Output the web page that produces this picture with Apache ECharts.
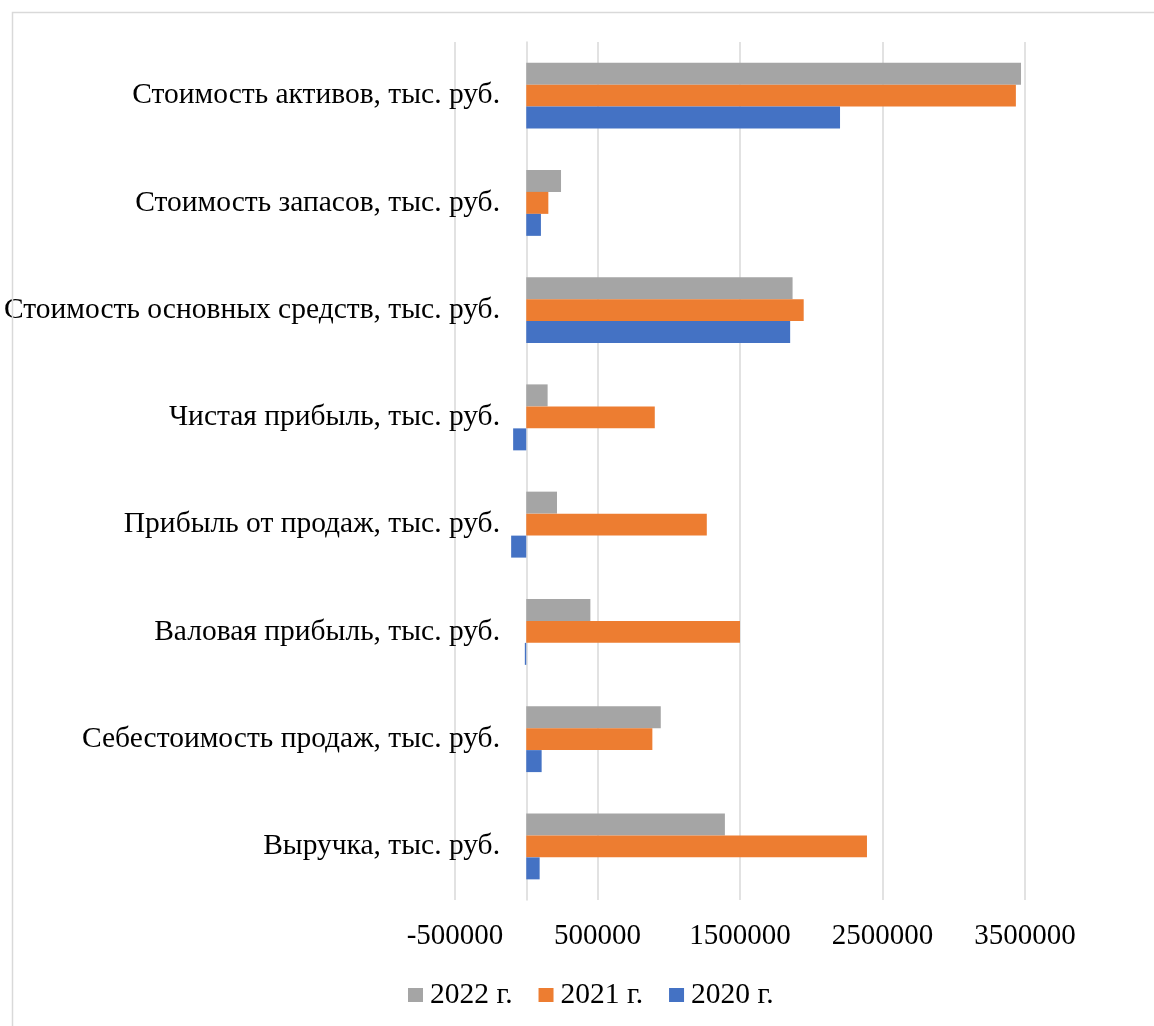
<!DOCTYPE html>
<html>
<head>
<meta charset="utf-8">
<script src="https://cdn.jsdelivr.net/npm/echarts@6/dist/echarts.min.js"></script>
<style>
  html, body { margin: 0; padding: 0; background: #ffffff; }
  #chart { width: 1154px; height: 1026px; }
</style>
</head>
<body>
<div id="chart"></div>
<script>
// Indicator names, bottom to top along the category axis
const categories = [
  'Выручка, тыс. руб.',
  'Себестоимость продаж, тыс. руб.',
  'Валовая прибыль, тыс. руб.',
  'Прибыль от продаж, тыс. руб.',
  'Чистая прибыль, тыс. руб.',
  'Стоимость основных средств, тыс. руб.',
  'Стоимость запасов, тыс. руб.',
  'Стоимость активов, тыс. руб.'
];

// Values per year, in the same order as categories
const values2022 = [1394000, 944000, 450000, 216000, 150000, 1869000, 244000, 3472000];
const values2021 = [2391000, 885000, 1500000, 1267000, 902000, 1947000, 155000, 3436000];
const values2020 = [94000, 108000, -10000, -106000, -92000, 1852000, 103000, 2202000];

const seriesNames = ['2022 г.', '2021 г.', '2020 г.'];

const xMin = -500000;
const xMax = 3500000;
const xStep = 1000000;

const FONT = '"Liberation Serif", "Times New Roman", serif';
const GRID = '#d9d9d9';

const chart = echarts.init(document.getElementById('chart'), null, { renderer: 'canvas' });

chart.setOption({
  backgroundColor: '#ffffff',
  animation: false,
  color: ['#A5A5A5', '#ED7D31', '#4472C4'],
  grid: {
    left: 455, right: 129, top: 42, bottom: 126,
    containLabel: false, outerBoundsMode: 'none'
  },
  legend: {
    data: seriesNames,
    left: 408,
    top: 980,
    padding: 0,
    icon: 'rect',
    itemWidth: 15,
    itemHeight: 14,
    itemGap: 26,
    textStyle: { fontFamily: FONT, fontSize: 29.5, color: '#000000', padding: [0, 0, 0, 2] }
  },
  xAxis: {
    type: 'value',
    min: xMin,
    max: xMax,
    interval: xStep,
    axisLine: { show: false },
    axisTick: { show: false },
    splitLine: { show: true, lineStyle: { color: GRID, width: 1.5 } },
    axisLabel: {
      fontFamily: FONT, fontSize: 29, color: '#000000', margin: 22,
      formatter: v => String(v)
    }
  },
  yAxis: {
    type: 'category',
    data: categories,
    axisLine: { show: true, onZero: true, lineStyle: { color: GRID, width: 1.5 } },
    axisTick: { show: false },
    splitLine: { show: false },
    axisLabel: { fontFamily: FONT, fontSize: 29.5, color: '#000000', margin: -45 }
  },
  series: [
    { name: seriesNames[0], type: 'bar', data: values2022, barGap: '0%', barCategoryGap: '38.5%' },
    { name: seriesNames[1], type: 'bar', data: values2021, barGap: '0%', barCategoryGap: '38.5%' },
    { name: seriesNames[2], type: 'bar', data: values2020, barGap: '0%', barCategoryGap: '38.5%' }
  ],
  graphic: [
    {
      type: 'rect', z: 100, silent: true,
      shape: { x: 12.5, y: 12.5, width: 1300, height: 1200 },
      style: { fill: null, stroke: GRID, lineWidth: 1.5 }
    }
  ]
});
</script>
</body>
</html>
